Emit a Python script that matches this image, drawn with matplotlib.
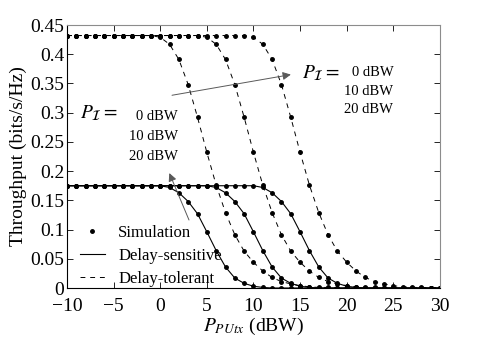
import matplotlib.pyplot as plt
from matplotlib.lines import Line2D

plt.rcParams['font.family'] = ['Liberation Serif', 'DejaVu Serif']
plt.rcParams['mathtext.fontset'] = 'stix'

p_pu = list(range(-10, 31))

# delay-tolerant throughput, P_I = 0, 10, 20 dBW
dt_pi0 = [0.432, 0.432, 0.432, 0.432, 0.432, 0.432, 0.432, 0.432, 0.432, 0.432,
          0.429, 0.417, 0.391, 0.348, 0.292, 0.232, 0.176, 0.129, 0.091, 0.063,
          0.044, 0.029, 0.018, 0.011, 0.007, 0.004, 0.002, 0.001, 0.001, 0.000,
          0.0, 0.0, 0.0, 0.0, 0.0, 0.0, 0.0, 0.0, 0.0, 0.0, 0.0]
dt_pi10 = [0.432, 0.432, 0.432, 0.432, 0.432, 0.432, 0.432, 0.432, 0.432, 0.432,
           0.432, 0.432, 0.432, 0.432, 0.432,
           0.429, 0.417, 0.391, 0.348, 0.292, 0.232, 0.176, 0.129, 0.091, 0.063,
           0.044, 0.029, 0.018, 0.011, 0.007, 0.004, 0.002, 0.001, 0.001, 0.000,
           0.0, 0.0, 0.0, 0.0, 0.0, 0.0]
dt_pi20 = [0.432, 0.432, 0.432, 0.432, 0.432, 0.432, 0.432, 0.432, 0.432, 0.432,
           0.432, 0.432, 0.432, 0.432, 0.432, 0.432, 0.432, 0.432, 0.432, 0.432,
           0.429, 0.417, 0.391, 0.348, 0.292, 0.232, 0.176, 0.129, 0.091, 0.063,
           0.044, 0.029, 0.018, 0.011, 0.007, 0.004, 0.002, 0.001, 0.001, 0.000,
           0.0]

# delay-sensitive throughput, P_I = 0, 10, 20 dBW
ds_pi0 = [0.175, 0.175, 0.175, 0.175, 0.175, 0.175, 0.175, 0.175, 0.175, 0.175,
          0.175, 0.172, 0.163, 0.148, 0.127, 0.096, 0.064, 0.036, 0.017, 0.008,
          0.003, 0.001, 0.0, 0.0, 0.0, 0.0, 0.0, 0.0, 0.0, 0.0,
          0.0, 0.0, 0.0, 0.0, 0.0, 0.0, 0.0, 0.0, 0.0, 0.0, 0.0]
ds_pi10 = [0.175, 0.175, 0.175, 0.175, 0.175, 0.175, 0.175, 0.175, 0.175, 0.175,
           0.175, 0.175, 0.175, 0.175, 0.175,
           0.175, 0.172, 0.163, 0.148, 0.127, 0.096, 0.064, 0.036, 0.017, 0.008,
           0.003, 0.001, 0.0, 0.0, 0.0, 0.0, 0.0, 0.0, 0.0, 0.0,
           0.0, 0.0, 0.0, 0.0, 0.0, 0.0]
ds_pi20 = [0.175, 0.175, 0.175, 0.175, 0.175, 0.175, 0.175, 0.175, 0.175, 0.175,
           0.175, 0.175, 0.175, 0.175, 0.175, 0.175, 0.175, 0.175, 0.175, 0.175,
           0.175, 0.172, 0.163, 0.148, 0.127, 0.096, 0.064, 0.036, 0.017, 0.008,
           0.003, 0.001, 0.0, 0.0, 0.0, 0.0, 0.0, 0.0, 0.0, 0.0, 0.0]

pi_labels = ['0 dBW', '10 dBW', '20 dBW']

fig = plt.figure(figsize=(4.85, 3.47), dpi=100)
ax = fig.add_axes([0.1381, 0.1700, 0.7691, 0.7579])

dash = (0, (5, 5))
for y in [dt_pi0, dt_pi10, dt_pi20]:
    ax.plot(p_pu, y, color='k', lw=0.7, ls=dash)
    ax.plot(p_pu, y, 'k.', ms=5)
for y in [ds_pi0, ds_pi10, ds_pi20]:
    ax.plot(p_pu, y, color='k', lw=0.8)
    ax.plot(p_pu, y, 'k.', ms=5)

ax.set_xlim(-10, 30)
ax.set_ylim(0, 0.45)
ax.set_xticks(range(-10, 31, 5))
ax.set_yticks([0, 0.05, 0.1, 0.15, 0.2, 0.25, 0.3, 0.35, 0.4, 0.45])
ax.set_yticklabels(['0', '0.05', '0.1', '0.15', '0.2', '0.25', '0.3', '0.35', '0.4', '0.45'])
ax.tick_params(direction='in', top=True, right=True, labelsize=14, length=4, width=0.6)
ax.tick_params(axis='x', pad=7)
ax.tick_params(axis='y', pad=2)
for s in ['top', 'right']:
    ax.spines[s].set_color('0.55')
for s in ax.spines.values():
    s.set_linewidth(0.8)

ax.set_xlabel(r'$P_{PUtx}$ (dBW)', fontsize=14, labelpad=1)
ax.set_ylabel('Throughput (bits/s/Hz)', fontsize=14, labelpad=2)

# annotation, delay-tolerant group
ax.annotate('', xy=(14.3, 0.366), xytext=(0.97, 0.329),
            arrowprops=dict(arrowstyle='-|>', color='0.35', lw=0.7, mutation_scale=12))
ax.text(15.2, 0.368, r'$P_{\mathcal{I}} =$', fontsize=14, va='center', ha='left')
for i, t in enumerate(pi_labels):
    ax.text(25.0, 0.368 - i * 0.031, t, fontsize=10.5, va='center', ha='right')

# annotation, delay-sensitive group
ax.annotate('', xy=(0.86, 0.201), xytext=(3.2, 0.112),
            arrowprops=dict(arrowstyle='-|>', color='0.35', lw=0.7, mutation_scale=12))
ax.text(-8.6, 0.299, r'$P_{\mathcal{I}} =$', fontsize=14, va='center', ha='left')
for i, t in enumerate(pi_labels):
    ax.text(1.9, 0.294 - i * 0.0345, t, fontsize=10.5, va='center', ha='right')

handles = [Line2D([], [], color='k', marker='.', ms=5, ls='none'),
           Line2D([], [], color='k', lw=0.8),
           Line2D([], [], color='k', lw=0.7, ls=dash)]
ax.legend(handles, ['Simulation', 'Delay-sensitive', 'Delay-tolerant'],
          loc='lower left', bbox_to_anchor=(0.012, -0.028), frameon=False,
          fontsize=12, handlelength=1.5, labelspacing=0.42, handletextpad=0.8,
          borderaxespad=0.1)

fig.savefig('out.png', dpi=100)
